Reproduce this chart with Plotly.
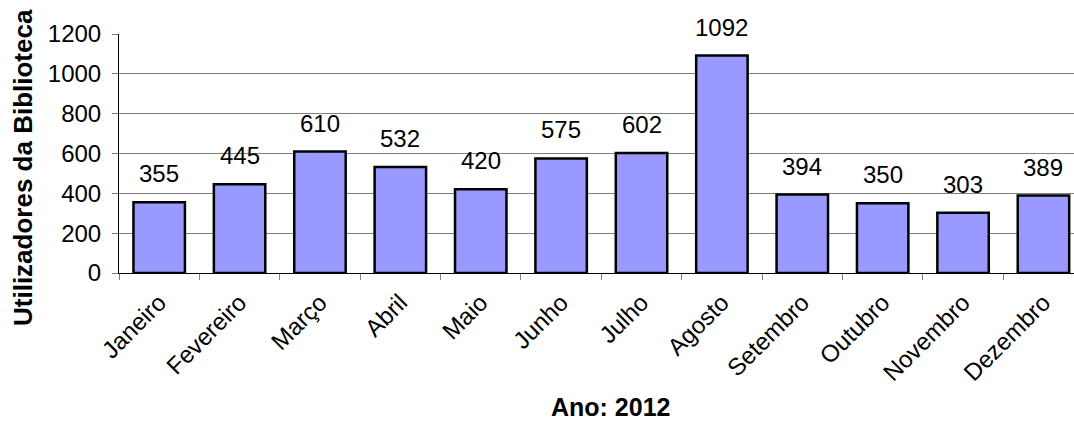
import plotly.graph_objects as go

meses = ["Janeiro", "Fevereiro", "Março", "Abril", "Maio", "Junho",
         "Julho", "Agosto", "Setembro", "Outubro", "Novembro", "Dezembro"]
utilizadores = [355, 445, 610, 532, 420, 575, 602, 1092, 394, 350, 303, 389]
y_ticks = [0, 200, 400, 600, 800, 1000, 1200]

W, H = 1074, 421
L, T, B = 119, 34, 148
FONT = "Liberation Sans, Arial"
fig = go.Figure()
fig.add_trace(go.Bar(
    x=meses, y=utilizadores, width=0.64,
    marker=dict(color="#9999FF", line=dict(color="black", width=2.5)),
    hoverinfo="skip",
))
for m, v in zip(meses, utilizadores):
    fig.add_annotation(x=m, y=v, text=str(v), showarrow=False,
                       yanchor="bottom", yshift=13,
                       font=dict(family=FONT, size=24, color="black"))

fig.add_annotation(xref="paper", yref="paper", x=(610 - L) / (W - L), y=(H - 407 - B) / (H - T - B),
                   text="<b>Ano: 2012</b>", showarrow=False, xanchor="center", yanchor="middle",
                   font=dict(family=FONT, size=25, color="black"))
fig.add_annotation(xref="paper", yref="paper", x=-(L - 23) / (W - L), y=(H - 168 - B) / (H - T - B),
                   text="<b>Utilizadores da Biblioteca</b>", showarrow=False, textangle=-90,
                   xanchor="center", yanchor="middle",
                   font=dict(family=FONT, size=26, color="black"))

fig.update_layout(
    width=W, height=H,
    margin=dict(l=L, r=0, t=T, b=B),
    paper_bgcolor="white", plot_bgcolor="white",
    showlegend=False,
    font=dict(family=FONT, size=24, color="black"),
    xaxis=dict(
        type="category", categoryorder="array", categoryarray=meses,
        range=[-0.5, 11.38], tickangle=-45,
        showline=True, linecolor="black", linewidth=1,
        ticks="outside", tickson="boundaries", ticklen=6, tickcolor="#808080",
        showgrid=False, zeroline=False, ticklabelstandoff=5,
        tickfont=dict(size=24),
    ),
    yaxis=dict(
        range=[0, 1200], tickvals=y_ticks,
        showline=True, linecolor="black", linewidth=1,
        ticks="outside", ticklen=6, tickcolor="#808080",
        showgrid=True, gridcolor="#808080", gridwidth=1,
        zeroline=False, ticklabelstandoff=6,
        tickfont=dict(size=24),
    ),
)
fig.write_html("out.html", config={"displayModeBar": False},
               post_script="document.body.style.margin='0';document.body.style.overflow='hidden';")
